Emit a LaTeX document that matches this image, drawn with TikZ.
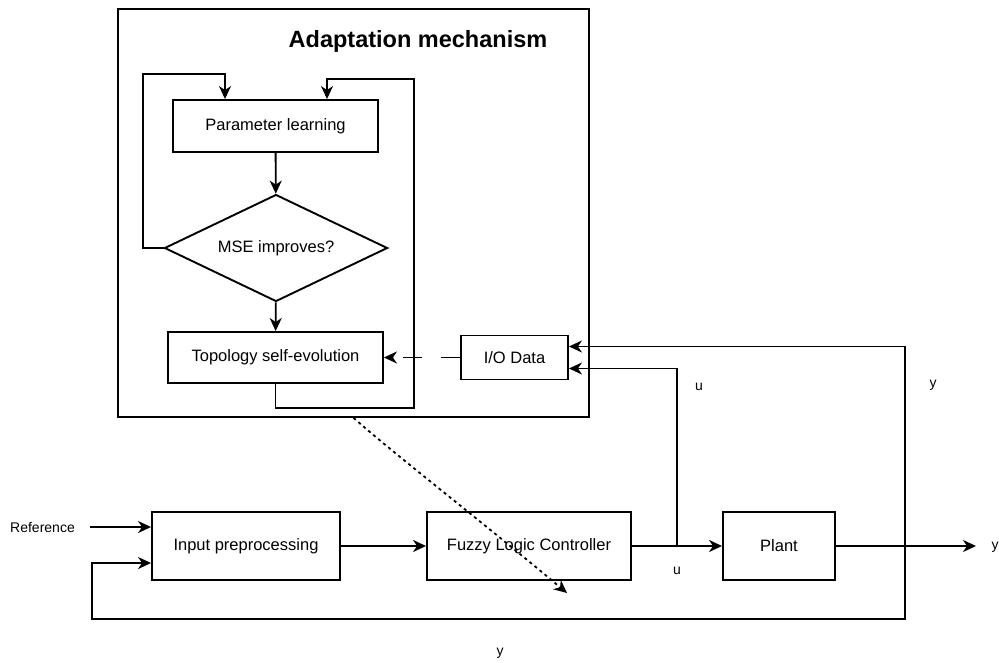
\documentclass[tikz,border=0pt]{standalone}
\usepackage{fontspec}
\setmainfont{Liberation Sans}
\usetikzlibrary{arrows.meta,shapes.geometric}
\begin{document}
\begin{tikzpicture}[x=1pt,y=-1pt,
  line width=1.8pt,
  >={Stealth[length=13pt,width=12pt,inset=4pt]},
  box/.style={draw, rectangle, line width=1.9pt, inner sep=0pt,
    font=\fontsize{16.5}{19}\selectfont},
  lbl/.style={font=\fontsize{14}{17}\selectfont, inner sep=0pt},
  dotted flow/.style={->, dash pattern=on 3pt off 3.5pt},
  dashed flow/.style={->, dash pattern=on 19pt off 19pt},
]
\useasboundingbox (0,0) rectangle (999,662);

% adaptation mechanism frame
\node[draw, line width=1.7pt, minimum width=471pt, minimum height=408pt, inner sep=0pt]
  (adapt) at (353.5,213) {};
\node[font=\bfseries\fontsize{23.5}{28}\selectfont, inner sep=0pt] (title) at (418,41)
  {Adaptation mechanism};

% inner flow chart
\node[box, minimum width=205pt, minimum height=52pt] (par) at (275.5,126) {Parameter learning};
\node[draw, diamond, shape aspect=2.08, minimum width=223pt, minimum height=107pt,
  inner sep=0pt, line width=1.9pt, font=\fontsize{16.5}{19}\selectfont]
  (dia) at (276,248) {MSE improves?};
\node[box, minimum width=215pt, minimum height=51pt] (topo) at (275.5,357.5) {Topology self-evolution};
\node[box, minimum width=107pt, minimum height=44pt] (io) at (514.5,357.5) {I/O Data};

% control loop blocks
\node[box, minimum width=188pt, minimum height=68pt] (inp) at (246,546) {Input preprocessing};
\node[box, minimum width=204pt, minimum height=68pt] (flc) at (529,546) {Fuzzy Logic Controller};
\node[box, minimum width=112pt, minimum height=68pt] (plant) at (779,546) {Plant};

% labels
\node[lbl] (ref) at (42.5,527) {Reference};
\node[lbl] (uup) at (699,387) {u};
\node[lbl] (ydn) at (677,571) {u};
\node[lbl] (yright) at (933,385) {y};
\node[lbl] (ybot) at (500,653) {y};
\node[lbl] (yout) at (995,547) {y};

% branch points and free ends
\coordinate (ubr) at (677,546);
\coordinate (ybr) at (905,546);
\coordinate (out) at (976,546);
\coordinate (dotend) at (567,593);

% flow chart connectors
\draw[->] (par) -- (dia);
\draw[->] (dia) -- (topo);
\draw[->] (dia.west) -| (143,74) -| (225,0 |- par.north);
\draw[->] (topo.south) |- (414,408) |- (327,79) -- (327,0 |- par.north);
\draw[dashed flow] (io.west) -- (topo.east);

% control loop connectors
\draw[->] ([xshift=14pt]ref.east) -- (ref.east -| inp.west);
\draw[->] (inp) -- (flc);
\draw[->] (flc) -- (plant);
\draw[->] (plant) -- (out);
\draw[->] (ubr) |- ([yshift=-11pt]io.east);
\draw[->] (ybr) |- ([yshift=11pt]io.east);
\draw[->] (ybr) -- (905,619) -| (92,563) -- (92,563 -| inp.west);

% adaptation acting on the controller
\draw[dotted flow] (adapt.south) .. controls (398,457) and (470,512) .. (dotend);
\end{tikzpicture}
\end{document}
